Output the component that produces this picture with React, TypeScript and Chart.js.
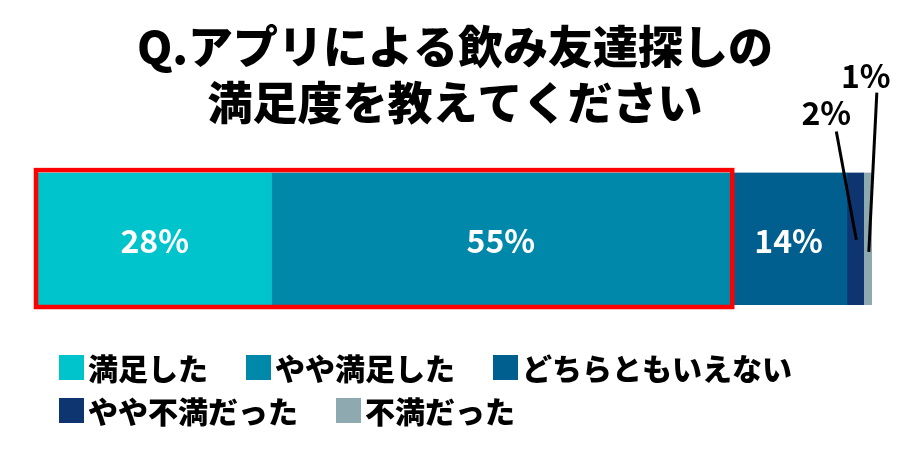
import React, { useEffect, useRef } from "react";
import { Chart, registerables } from "chart.js";

Chart.register(...registerables);

const titleLines = ["Q.アプリによる飲み友達探しの", "満足度を教えてください"];
const categories = ["満足度"];
const seriesLabels = ["満足した", "やや満足した", "どちらともいえない", "やや不満だった", "不満だった"];
const seriesValues = [28, 55, 14, 2, 1];
const seriesColors = ["#00C4CC", "#0088AA", "#005F8F", "#0F3570", "#8FA9B0"];
const highlightedCount = 2;

const FONT = "'Noto Sans CJK JP', 'Noto Sans', sans-serif";

const overlayPlugin = {
  id: "overlay",
  afterDatasetsDraw(chart: any) {
    const ctx = chart.ctx;
    const xs = chart.scales.x;
    const firstMeta = chart.getDatasetMeta(0);
    const el0 = firstMeta.data[0];
    const barTop = el0.y - el0.height / 2;
    const barBottom = el0.y + el0.height / 2;

    let cum = 0;
    for (let i = 0; i < highlightedCount; i++) cum += seriesValues[i];
    const left = xs.getPixelForValue(0);
    const right = xs.getPixelForValue(cum);
    ctx.save();
    ctx.strokeStyle = "#FF0000";
    ctx.lineWidth = 4.5;
    ctx.strokeRect(left - 2, barTop - 2.5, right - left + 4, barBottom - barTop + 4.5);
    ctx.restore();

    let acc = 0;
    ctx.save();
    ctx.textAlign = "center";
    ctx.textBaseline = "middle";
    ctx.font = `bold 32px ${FONT}`;
    seriesValues.forEach((v, i) => {
      const cx = xs.getPixelForValue(acc + v / 2);
      acc += v;
      const cy = el0.y;
      const text = `${v}%`;
      if (v >= 10) {
        ctx.fillStyle = "#FFFFFF";
        ctx.fillText(text, cx, cy + 2);
      } else {
        ctx.fillStyle = "#000000";
        ctx.strokeStyle = "#000000";
        ctx.lineWidth = 3;
        let lx, ly, sx, sy, ex, ey;
        if (i === 3) {
          lx = cx - 29; ly = barTop - 60;
          sx = cx - 19; sy = barTop - 41;
          ex = cx + 1; ey = cy + 1;
        } else {
          lx = cx - 2; ly = barTop - 97;
          sx = cx + 9; sy = barTop - 80;
          ex = cx + 1; ey = cy + 13;
        }
        ctx.fillText(text, lx, ly);
        ctx.beginPath();
        ctx.moveTo(sx, sy);
        ctx.lineTo(ex, ey);
        ctx.stroke();
      }
    });
    ctx.restore();
  },
  afterDraw(chart: any) {
    const ctx = chart.ctx;
    ctx.save();
    ctx.font = `900 30px ${FONT}`;
    ctx.textBaseline = "middle";
    ctx.textAlign = "left";
    const startX = 59;
    const rowYs = [367.5, 410.5];
    const box = 25;
    const textGap = 4;
    const itemGap = 38;
    const maxX = chart.width - 20;
    let x = startX;
    let row = 0;
    seriesLabels.forEach((label, i) => {
      const w = box + textGap + ctx.measureText(label).width;
      if (x + w > maxX && x > startX) {
        row += 1;
        x = startX;
      }
      const y = rowYs[Math.min(row, rowYs.length - 1)];
      ctx.fillStyle = seriesColors[i];
      ctx.fillRect(x, y - box / 2, box, box);
      ctx.fillStyle = "#000000";
      ctx.fillText(label, x + box + textGap, y + 1);
      x += w + itemGap;
    });
    ctx.restore();
  },
};

export default function App() {
  const ref = useRef<HTMLCanvasElement | null>(null);
  useEffect(() => {
    document.body.style.margin = "0";
    if (!ref.current) return;
    const chart = new Chart(ref.current, {
      type: "bar",
      data: {
        labels: categories,
        datasets: seriesLabels.map((label, i) => ({
          label,
          data: [seriesValues[i]],
          backgroundColor: seriesColors[i],
          borderWidth: 0,
          barPercentage: 1,
          categoryPercentage: 1,
        })),
      },
      options: {
        indexAxis: "y",
        animation: false,
        responsive: true,
        maintainAspectRatio: false,
        layout: { padding: { left: 38, right: 28, top: 0, bottom: 155 } },
        scales: {
          x: { stacked: true, min: 0, max: 100, display: false },
          y: { stacked: true, display: false },
        },
        plugins: {
          legend: { display: false },
          tooltip: { enabled: false },
          title: {
            display: true,
            text: titleLines,
            color: "#000000",
            font: { family: FONT, size: 45, weight: "900", lineHeight: 1.24 },
            padding: { top: 19, bottom: 42 },
          },
        },
      },
      plugins: [overlayPlugin],
    } as any);
    return () => chart.destroy();
  }, []);
  return (
    <div style={{ position: "absolute", left: 0, top: 0, width: 900, height: 460, background: "#FFFFFF" }}>
      <canvas ref={ref} />
    </div>
  );
}
